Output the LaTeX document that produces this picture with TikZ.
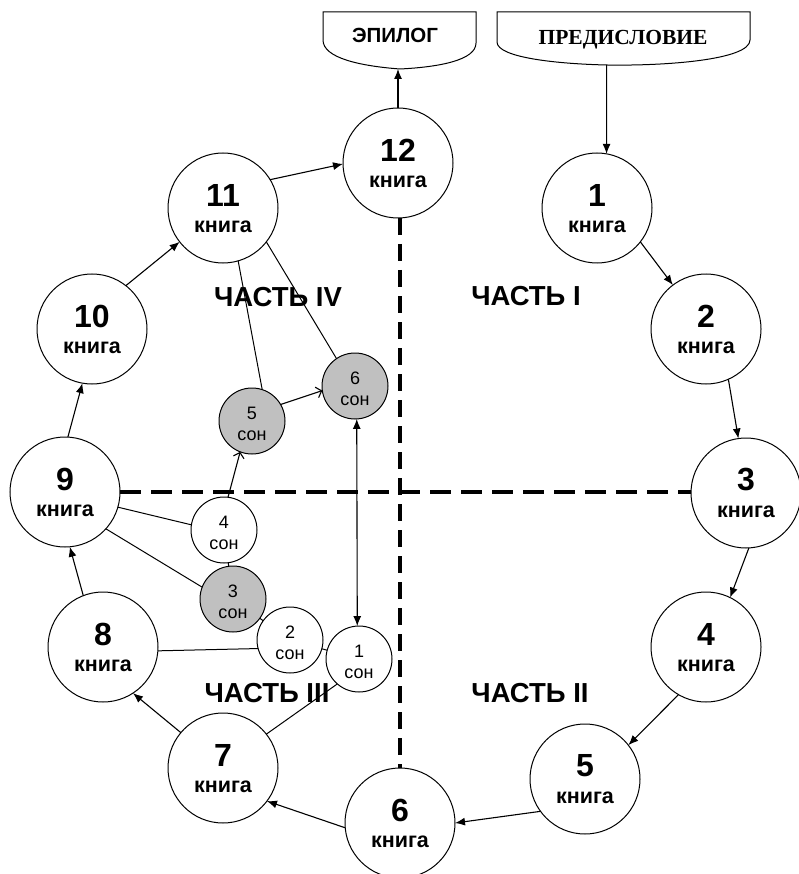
\documentclass[tikz,border=0pt]{standalone}
\usepackage{fontspec}
\setmainfont{Liberation Sans}
\newfontfamily\serifbold{Liberation Serif}
\usetikzlibrary{arrows.meta}
\definecolor{dreamgray}{RGB}{192,192,192}
\tikzset{
 book/.style={circle,draw,line width=1pt,minimum size=110pt,inner sep=0pt,outer sep=0pt},
 dream/.style={circle,draw,line width=1pt,minimum size=66pt,inner sep=0pt,outer sep=0pt},
 greydream/.style={dream,fill=dreamgray},
 booknum/.style={font=\fontsize{32}{32}\selectfont\bfseries,inner sep=0pt},
 booktxt/.style={font=\fontsize{21.5}{21.5}\selectfont\bfseries,inner sep=0pt},
 dreamtxt/.style={font=\fontsize{18}{18}\selectfont,inner sep=0pt},
 partlbl/.style={font=\fontsize{27.5}{27.5}\selectfont\bfseries,inner sep=0pt},
 conn/.style={line width=1pt},
 arr/.style={line width=1.1pt,-{Latex[length=10pt,width=8pt]}},
 dblarr/.style={line width=1.1pt,{Latex[length=10pt,width=8pt]}-{Latex[length=10pt,width=8pt]}},
 openarr/.style={line width=1.1pt,-{Straight Barb[length=5pt,width=11pt]}},
 hdivider/.style={line width=4pt,dash pattern=on 21pt off 10pt},
 vdivider/.style={line width=4pt,dash pattern=on 17pt off 9pt},
 boxline/.style={line width=1pt},
}
\newcommand\bookcircle[4]{%
 \node[book] (#1) at (#2,#3) {};
 \node[booknum] (#1-num) at (#2,#3-13) {#4};
 \node[booktxt] (#1-txt) at (#2,#3+18.5) {книга};}
\newcommand\dreamcircle[5]{%
 \node[#5] (#1) at (#2,#3) {};
 \node[dreamtxt] (#1-num) at (#2,#3-7.5) {#4};
 \node[dreamtxt] (#1-txt) at (#2,#3+14.5) {сон};}
\begin{document}
\begin{tikzpicture}[x=1pt,y=-1pt]
\useasboundingbox (0,0) rectangle (798,874);

% header boxes
\draw[boxline] (323,12) -- (323,40) .. controls (323,58) and (360,66) .. (400,69) .. controls (440,67) and (476,60) .. (476,43) -- (476,12) -- cycle;
\coordinate (epb) at (398,69);
\node[font=\fontsize{20.5}{20.5}\selectfont\bfseries,anchor=base,inner sep=0pt] (epitxt) at (395,42.5) {ЭПИЛОГ};

\draw[boxline] (497,12) -- (497,42) .. controls (497,58) and (560,64) .. (607,65) .. controls (665,66) and (750,60) .. (750,40) -- (750,12) -- cycle;
\coordinate (prb) at (606.6,65);
\node[font=\serifbold\fontsize{21.5}{21.5}\selectfont\bfseries,anchor=base,inner sep=0pt] (pretxt) at (623,44.5) {ПРЕДИСЛОВИЕ};

% part labels
\node[partlbl] (p1) at (526,296) {ЧАСТЬ I};
\node[partlbl] (p2) at (530,693) {ЧАСТЬ II};
\node[partlbl] (p3) at (267,693) {ЧАСТЬ III};
\node[partlbl] (p4) at (278,297) {ЧАСТЬ IV};

% books
\bookcircle{n1}{597}{208}{1}
\bookcircle{n2}{706}{329}{2}
\bookcircle{n3}{746}{493}{3}
\bookcircle{n4}{706}{647}{4}
\bookcircle{n5}{585}{779}{5}
\bookcircle{n6}{400}{823}{6}
\bookcircle{n7}{223}{768}{7}
\bookcircle{n8}{103}{647}{8}
\bookcircle{n9}{65}{492}{9}
\bookcircle{n10}{92}{329}{10}
\bookcircle{n11}{223}{208}{11}
\bookcircle{n12}{398}{163}{12}

% dreams
\dreamcircle{s1}{359}{659}{1}{dream}
\dreamcircle{s2}{290}{640}{2}{dream}
\dreamcircle{s3}{233}{599}{3}{greydream}
\dreamcircle{s4}{224}{530}{4}{dream}
\dreamcircle{s5}{252}{421}{5}{greydream}
\dreamcircle{s6}{355}{386}{6}{greydream}

% dividers
\draw[hdivider] (n9.east) -- (n9.east -| n3.west);
\draw[vdivider] (n12.south -| n6.north) -- (n6.north);

% book chain
\draw[arr] (prb) -- (n1.80);
\draw[arr] (n1.-38) -- (n2.127);
\draw[arr] (n2.-66) -- (n3.98);
\draw[arr] (n3.-87) -- (n4.64);
\draw[arr] (n4.-120) -- (n5.38);
\draw[arr] (n5.216) -- (n6.0);
\draw[arr] (n6.185) -- (n7.-37);
\draw[arr] (n7.140) -- (n8.-57);
\draw[arr] (n8.111) -- (n9.-85);
\draw[arr] (n9.87) -- (n10.-100);
\draw[arr] (n10.52) -- (n11.-142);
\draw[arr] (n11.31) -- (n12.181);
\draw[arr] (n12) -- (epb);

% dream links
\draw[conn] (n11.-74) -- (s5.72);
\draw[conn] (n11.-38) -- (s6.124);
\draw[conn] (n9.-16) -- (s4.171);
\draw[conn] (n9.-42) -- (s3.159);
\draw[conn] (n8.-4) -- (s2.195);
\draw[conn] (n7.38) -- (s1.229);
\draw[conn] (s4) -- (s3);
\draw[conn] (s3) -- (s2);
\draw[conn] (s2) -- (s1);
\draw[openarr] (s4.83) -- (s5.-111);
\draw[openarr] (s5.30) -- (s6.188);
\draw[dblarr] (s6.-87) -- (s1.93);
\end{tikzpicture}
\end{document}
